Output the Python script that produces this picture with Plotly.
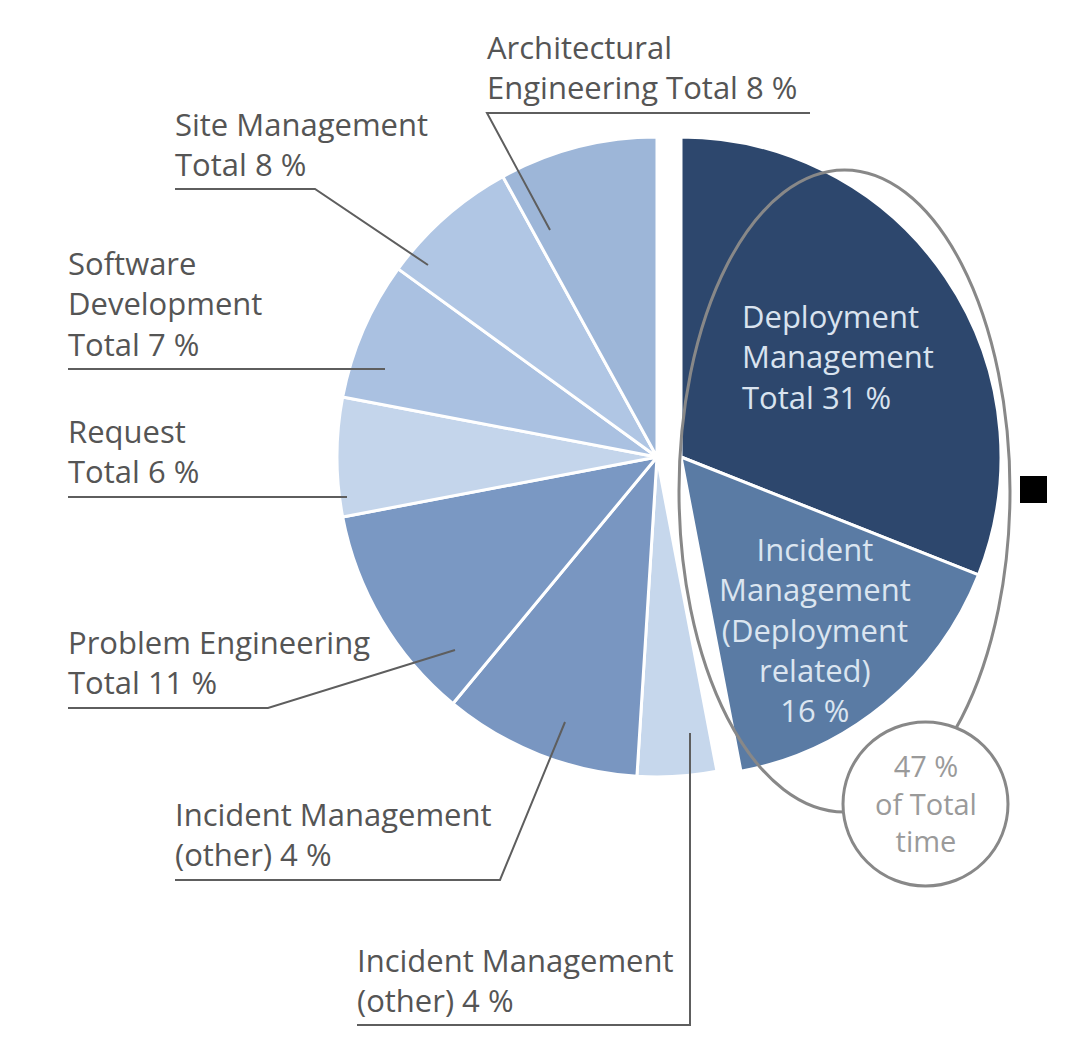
import plotly.graph_objects as go

W, H = 1090, 1054

# ---- data (clockwise from 12 o'clock) ----
categories = [
    "Deployment Management",
    "Incident Management (Deployment related)",
    "Incident Management (other) a",
    "Incident Management (other) b",
    "Problem Engineering",
    "Request",
    "Software Development",
    "Site Management",
    "Architectural Engineering",
]
values = [31, 16, 4, 10, 11, 6, 7, 7, 8]
slice_colors = ["#2d476d", "#5a7ba4", "#c6d7ec", "#7996c1", "#7a98c3",
                "#c4d5eb", "#aac1e1", "#b0c6e4", "#9db6d8"]
highlighted = [True, True, False, False, False, False, False, False, False]

outside_labels = [
    "Architectural<br>Engineering Total 8 %",
    "Site Management<br>Total 8 %",
    "Software<br>Development<br>Total 7 %",
    "Request<br>Total 6 %",
    "Problem Engineering<br>Total 11 %",
    "Incident Management<br>(other) 4 %",
    "Incident Management<br>(other) 4 %",
]
inside_labels = [
    "Deployment<br>Management<br>Total 31 %",
    "Incident<br>Management<br>(Deployment<br>related)<br>16 %",
]
group_label = "47 %<br>of Total<br>time"


def X(px):
    return px / W


def Y(py):
    return 1 - py / H


R = 320
CY = 457
CX_MAIN = 657
CX_OUT = 681


def dom(cx):
    return dict(x=[X(cx - R), X(cx + R)], y=[Y(CY + R), Y(CY - R)])


def pie_trace(show_highlighted, cx):
    cols, widths = [], []
    for c, h in zip(slice_colors, highlighted):
        if h == show_highlighted:
            cols.append(c)
            widths.append(3)
        else:
            cols.append("rgba(0,0,0,0)")
            widths.append(0)
    return go.Pie(
        labels=categories, values=values, sort=False, direction="clockwise",
        rotation=0, textinfo="none", hoverinfo="skip", showlegend=False,
        marker=dict(colors=cols, line=dict(color="white", width=widths)),
        domain=dom(cx),
    )


fig = go.Figure()
fig.add_trace(pie_trace(False, CX_MAIN))
fig.add_trace(pie_trace(True, CX_OUT))

FONT = "Open Sans"
TXT = "#555555"
LINE = "#5e5e5e"
FS = 31

# outside labels: (text x, text block center y, leader path points)
label_pos = [
    (485, 67, [(810, 113), (487, 113), (550, 230)]),
    (173, 144, [(175, 189), (315, 189), (428, 265)]),
    (66, 303, [(68, 369), (385, 369)]),
    (66, 451, [(68, 497), (347, 497)]),
    (66, 662, [(68, 708), (268, 708), (455, 650)]),
    (173, 834, [(175, 880), (500, 880), (565, 722)]),
    (355, 980, [(357, 1025), (690, 1025), (690, 733)]),
]

shapes = []
annotations = []
for text, (tx, ty, pts) in zip(outside_labels, label_pos):
    annotations.append(dict(
        x=X(tx), y=Y(ty), xref="paper", yref="paper", text=text,
        showarrow=False, xanchor="left", yanchor="middle", align="left",
        font=dict(family=FONT, size=FS, color=TXT),
    ))
    path = "M " + " L ".join(f"{X(a)},{Y(b)}" for a, b in pts)
    shapes.append(dict(type="path", path=path, xref="paper", yref="paper",
                       line=dict(color=LINE, width=2)))

annotations.append(dict(
    x=X(740), y=Y(357), xref="paper", yref="paper", text=inside_labels[0],
    showarrow=False, xanchor="left", yanchor="middle", align="left",
    font=dict(family=FONT, size=FS, color="#d9e3ef"),
))
annotations.append(dict(
    x=X(815), y=Y(629), xref="paper", yref="paper", text=inside_labels[1],
    showarrow=False, xanchor="center", yanchor="middle", align="center",
    font=dict(family=FONT, size=FS, color="#dbe5f0"),
))

# ellipse around the highlighted group
shapes.append(dict(type="circle", xref="paper", yref="paper",
                   x0=X(679), x1=X(1010), y0=Y(812), y1=Y(170),
                   line=dict(color="#888888", width=3), layer="above"))
# circle with group total
shapes.append(dict(type="circle", xref="paper", yref="paper",
                   x0=X(843), x1=X(1008), y0=Y(886), y1=Y(722),
                   fillcolor="white", line=dict(color="#888888", width=3),
                   layer="above"))
annotations.append(dict(
    x=X(926), y=Y(803), xref="paper", yref="paper", text=group_label,
    showarrow=False, xanchor="center", yanchor="middle", align="center",
    font=dict(family=FONT, size=29, color="#9a9a9a"),
))
# black square marker
shapes.append(dict(type="rect", xref="paper", yref="paper",
                   x0=X(1020), x1=X(1047), y0=Y(503), y1=Y(476),
                   fillcolor="black", line=dict(width=0), layer="above"))

fig.update_layout(
    width=W, height=H, margin=dict(l=0, r=0, t=0, b=0),
    paper_bgcolor="white", plot_bgcolor="white",
    shapes=shapes, annotations=annotations,
)

fig.write_html("out.html", config={"displayModeBar": False},
               post_script="document.body.style.margin='0';")
